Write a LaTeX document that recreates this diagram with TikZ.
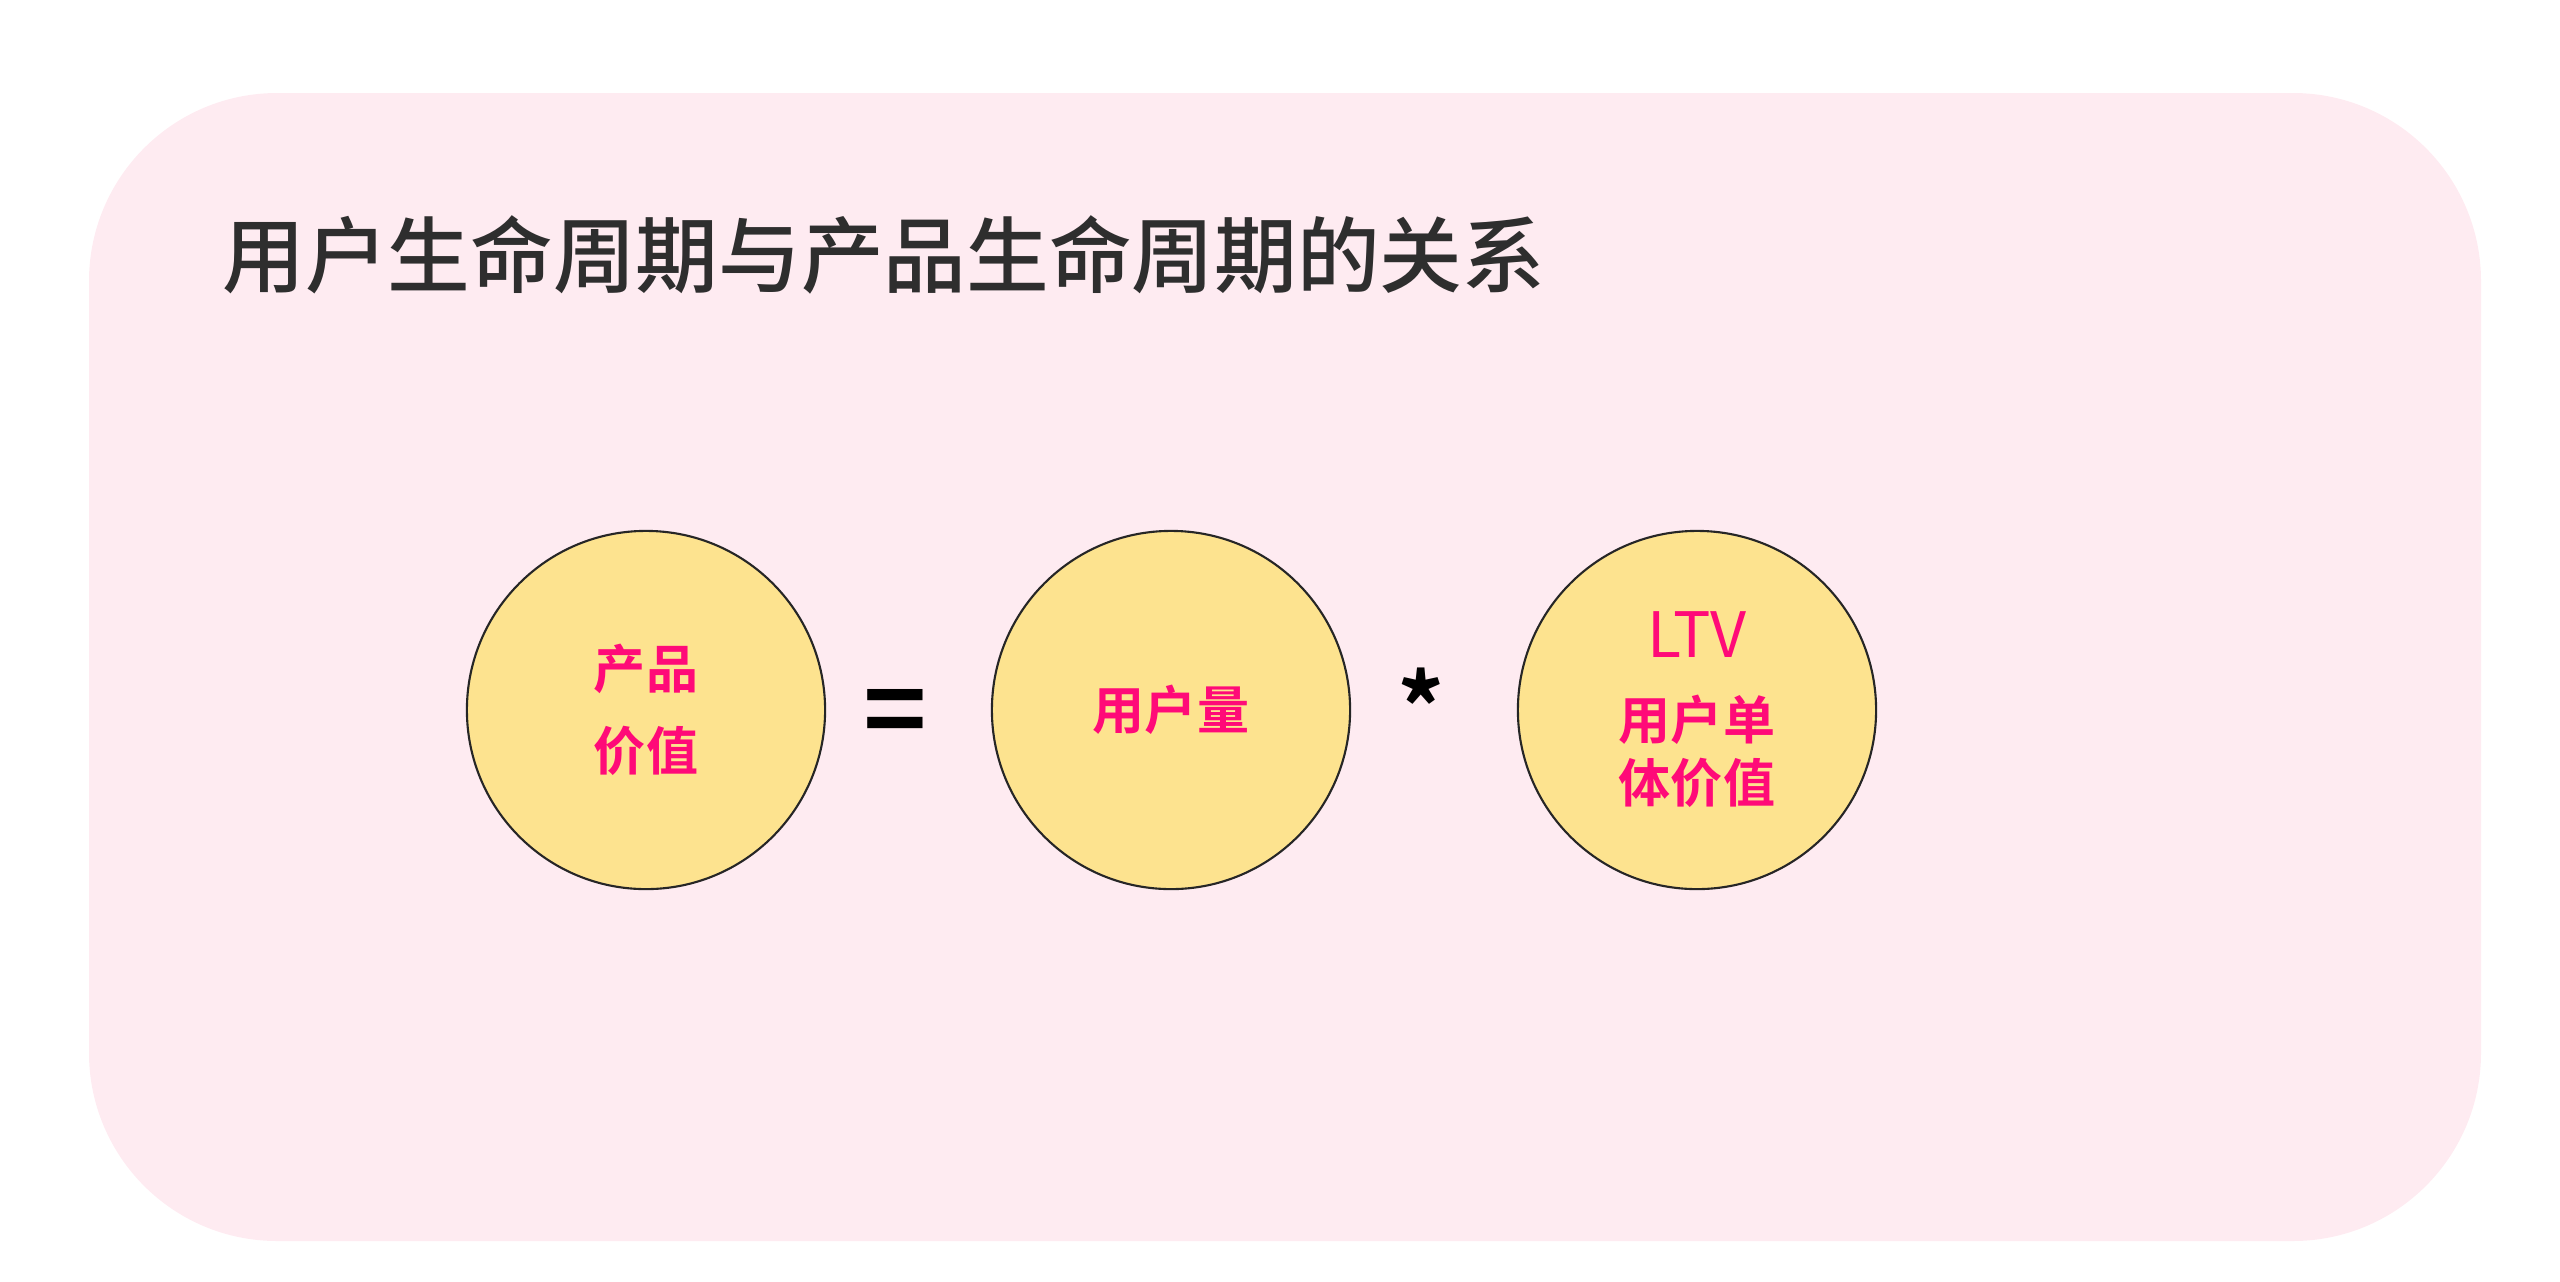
\documentclass[tikz,border=0pt]{standalone}
\usepackage{fontspec}
\setmainfont{Noto Sans CJK SC}[BoldFont={Noto Sans CJK SC Bold}]
\newfontfamily\headfont{Noto Sans CJK SC Medium}
\definecolor{bgpink}{HTML}{FEEBF1}
\definecolor{disc}{HTML}{FDE38F}
\definecolor{rose}{HTML}{FF0A78}
\definecolor{ink}{HTML}{2E2E2E}
\begin{document}
\begin{tikzpicture}[x=0.01cm,y=-0.01cm]
        \tikzstyle{valuecircle}=[circle,draw=black!85,line width=0.6pt,fill=disc,minimum size=3.58cm,inner sep=0pt,text=rose,font=\bfseries\fontsize{14.8}{17.9}\selectfont,align=center]
        \tikzstyle{op}=[text=black,inner sep=0pt]
        \useasboundingbox (0,0) rectangle (2560,1281);
        \fill[bgpink,rounded corners=1.88cm] (89,93) rectangle (2481,1241);

        \node[anchor=west,text=ink,inner sep=0pt,font=\headfont\fontsize{23.5}{27}\selectfont] (title) at (222,255) {用户生命周期与产品生命周期的关系};

        \node [valuecircle] (c1) at (646,710) {产品\\[5.4pt]价值};
        \node [valuecircle] (c2) at (1171,710) {用户量};
        \node [valuecircle] (c3) at (1697,710) {{\mdseries\fontsize{17.8}{17.9}\selectfont LTV}\\[5.4pt]用户单\\体价值};

        \node [op,font=\bfseries\fontsize{30.7}{31}\selectfont] (eq) at (895,719) {=};
        \node [op,font=\bfseries\fontsize{26.6}{27}\selectfont] (times) at (1421,706) {*};
\end{tikzpicture}
\end{document}
